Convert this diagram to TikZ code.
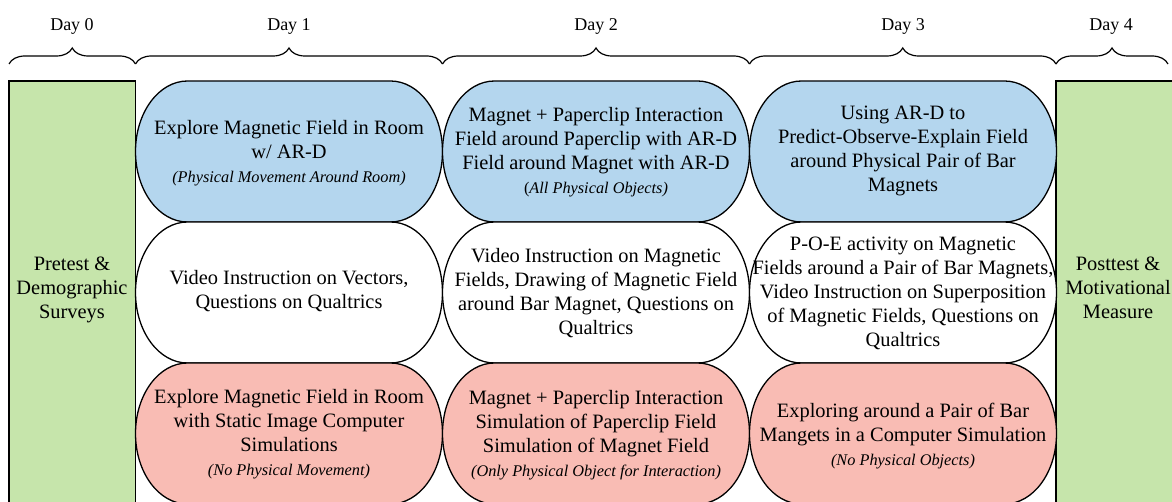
\documentclass[tikz,border=0pt]{standalone}
\usepackage{fontspec}
\setmainfont{Liberation Serif}
\usetikzlibrary{decorations.pathreplacing}
\definecolor{pblue}{RGB}{180,214,238}
\definecolor{pred}{RGB}{249,188,180}
\definecolor{pgreen}{RGB}{198,229,171}
\newcommand\pillshape[3]{%
  \draw[pillline,fill=#3] ({#1-101.5},{#2+70.5}) -- ({#1+101.5},{#2+70.5})
    arc[start angle=90,end angle=-90,x radius=52pt,y radius=70.5pt]
    -- ({#1-101.5},{#2-70.5})
    arc[start angle=270,end angle=90,x radius=52pt,y radius=70.5pt] -- cycle;}
\newcommand\note[1]{{\fontsize{16.3}{19}\selectfont\itshape #1}}
\begin{document}
\begin{tikzpicture}[x=1pt,y=1pt,
  pillline/.style={draw=black,line width=1.3pt},
  greenbox/.style={draw=black,line width=1.3pt,fill=pgreen},
  txt/.style={align=center,inner sep=0pt,font=\fontsize{20.4}{24}\selectfont},
  daylbl/.style={anchor=base,inner sep=0pt,font=\fontsize{18}{22}\selectfont},
  daybrace/.style={draw=black,line width=1.2pt,decorate,decoration={brace,amplitude=16pt}}]
\useasboundingbox (0,0) rectangle (1172,-502);
\clip (0,0) rectangle (1172,-502);

% day labels and braces
\node[daylbl] (d0) at (72,-31) {Day 0};
\node[daylbl] (d1) at (289,-31) {Day 1};
\node[daylbl] (d2) at (596,-31) {Day 2};
\node[daylbl] (d3) at (903,-31) {Day 3};
\node[daylbl] (d4) at (1111,-31) {Day 4};
\coordinate (b0) at (9,-64);
\coordinate (b1) at (135.5,-64);
\coordinate (b2) at (442.5,-64);
\coordinate (b3) at (749.5,-64);
\coordinate (b4) at (1056,-64);
\coordinate (b5) at (1168,-64);
\draw[daybrace] (b0) -- (b1);
\draw[daybrace] (b1) -- (b2);
\draw[daybrace] (b2) -- (b3);
\draw[daybrace] (b3) -- (b4);
\draw[daybrace] (b4) -- (b5);

% green boxes
\draw[greenbox] (9,-81) rectangle (135.5,-530);
\draw[greenbox] (1056,-81) rectangle (1180,-530);
\node[txt] (pre) at (72,-290) {Pretest \&\\Demographic\\Surveys};
\node[txt] (post) at (1118,-288) {Posttest \&\\Motivational\\Measure};

% pills
\pillshape{289}{-151.5}{pblue}
\pillshape{596}{-151.5}{pblue}
\pillshape{903}{-151.5}{pblue}
\pillshape{289}{-292.5}{white}
\pillshape{596}{-292.5}{white}
\pillshape{903}{-292.5}{white}
\pillshape{289}{-433.5}{pred}
\pillshape{596}{-433.5}{pred}
\pillshape{903}{-433.5}{pred}

\node[txt] (a1) at (289,-153) {Explore Magnetic Field in Room\\w/ AR-D\\\note{(Physical Movement Around Room)}};
\node[txt] (a2) at (596,-152) {Magnet + Paperclip Interaction\\Field around Paperclip with AR-D\\Field around Magnet with AR-D\\{\fontsize{16.3}{19}\selectfont(\itshape All Physical Objects)}};
\node[txt] (a3) at (903,-151) {Using AR-D to\\Predict-Observe-Explain Field\\around Physical Pair of Bar\\Magnets};

\node[txt] (m1) at (289,-291) {Video Instruction on Vectors,\\Questions on Qualtrics};
\node[txt] (m2) at (596,-293) {Video Instruction on Magnetic\\Fields, Drawing of Magnetic Field\\around Bar Magnet, Questions on\\Qualtrics};
\node[txt] (m3) at (903,-293) {P-O-E activity on Magnetic\\Fields around a Pair of Bar Magnets,\\Video Instruction on Superposition\\of Magnetic Fields, Questions on\\Qualtrics};

\node[txt] (r1) at (289,-434) {Explore Magnetic Field in Room\\with Static Image Computer\\Simulations\\\note{(No Physical Movement)}};
\node[txt] (r2) at (596,-435) {Magnet + Paperclip Interaction\\Simulation of Paperclip Field\\Simulation of Magnet Field\\\note{(Only Physical Object for Interaction)}};
\node[txt] (r3) at (903,-436) {Exploring around a Pair of Bar\\Mangets in a Computer Simulation\\\note{(No Physical Objects)}};
\end{tikzpicture}
\end{document}
